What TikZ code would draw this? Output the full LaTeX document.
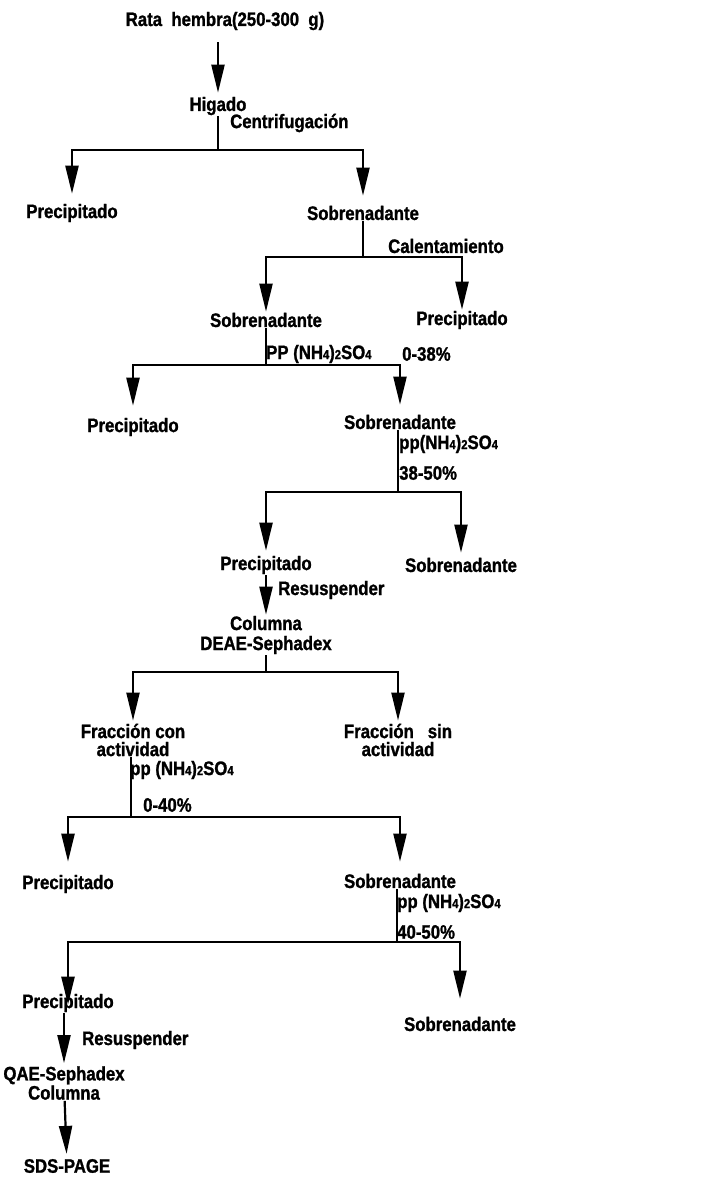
\documentclass[tikz,border=0pt]{standalone}
\usepackage{fontspec}
\setmainfont{Liberation Sans}[FakeStretch=0.86,BoldFeatures={FakeBold=1.2}]
\usetikzlibrary{arrows.meta}
\usetikzlibrary{positioning}
\newcommand{\dn}[1]{{\fontsize{13}{13}\selectfont #1}}

\begin{document}
\begin{tikzpicture}[x=1pt,y=-1pt]
\tikzset{txt/.style = {font=\bfseries\fontsize{19.5}{18}\selectfont,inner sep=1pt,align=center}}
\tikzset{lbl/.style = {txt,anchor=west}}
\tikzset{ln/.style = {line width=2.2pt}}
\tikzset{arr/.style = {ln,-{Triangle[length=28pt,width=13pt]},shorten >=3pt}}
\useasboundingbox (0,0) rectangle (705,1177);
% nodes
\node[txt] (rata) at (225,21) {Rata\ \ hembra(250-300\ \ g)};
\node[txt] (higado) at (218,106) {Higado};
\node[lbl] (centrif) at (229,123) {Centrifugación};
\node[txt] (prec1) at (72,213) {Precipitado};
\node[txt] (sobre1) at (363,213) {Sobrenadante};
\node[lbl] (calent) at (387,246) {Calentamiento};
\node[txt] (sobre2) at (266,320) {Sobrenadante};
\node[txt] (prec2) at (462,320) {Precipitado};
\node[lbl] (pp1) at (265,354) {PP (NH\dn{4})\dn{2}SO\dn{4}};
\node[lbl] (pct1) at (401,354) {0-38\%};
\node[txt] (prec3) at (133,427) {Precipitado};
\node[txt] (sobre3) at (400,422) {Sobrenadante};
\node[lbl] (pp2) at (398,444) {pp(NH\dn{4})\dn{2}SO\dn{4}};
\node[lbl] (pct2) at (398,473) {38-50\%};
\node[txt] (prec4) at (266,565) {Precipitado};
\node[txt] (sobre4) at (461,565) {Sobrenadante};
\node[lbl] (resus1) at (277,590) {Resuspender};
\node[txt] (col1) at (266,635) {Columna\\[2pt]DEAE-Sephadex};
\node[txt] (frac1) at (133,740) {Fracción con\\actividad};
\node[txt] (frac2) at (398,740) {Fracción\ \ \ sin\\actividad};
\node[lbl] (pp3) at (129,770) {pp (NH\dn{4})\dn{2}SO\dn{4}};
\node[lbl] (pct3) at (142,805) {0-40\%};
\node[txt] (prec6) at (68,884) {Precipitado};
\node[txt] (sobre6) at (400,881) {Sobrenadante};
\node[lbl] (pp4) at (396,903) {pp (NH\dn{4})\dn{2}SO\dn{4}};
\node[lbl] (pct4) at (396,932) {40-50\%};
\node[txt] (prec7) at (68,1003) {Precipitado};
\node[txt] (sobre7) at (460,1024) {Sobrenadante};
\node[lbl] (resus2) at (81,1040) {Resuspender};
\node[txt] (col2) at (64,1083) {QAE-Sephadex\\Columna};
\node[txt] (sds) at (67,1166) {SDS-PAGE};
% junctions
\coordinate (j1) at (218,150);
\coordinate (j2) at (363,257);
\coordinate (j3) at (266,365);
\coordinate (j4) at (398,492);
\coordinate (j5) at (266,672);
\coordinate (j6) at (131,817);
\coordinate (j7) at (397,942);
% edges
\draw[arr,shorten <=11pt] (rata.south -| higado.north) -- (higado.north);
\draw[ln] (higado) -- (j1);
\draw[arr,shorten >=9pt] (j1) -| (prec1);
\draw[arr,shorten >=9pt] (j1) -| (sobre1);
\draw[ln] (sobre1) -- (j2);
\draw[arr,shorten >=0pt] (j2) -| (sobre2);
\draw[arr,shorten >=0pt] (j2) -| (prec2);
\draw[ln] (sobre2) -- (j3);
\draw[arr,shorten >=11pt] (j3) -| (prec3);
\draw[arr,shorten >=9pt] (j3) -| (sobre3);
\draw[ln] (sobre3.south -| j4) -- (j4);
\draw[arr,shorten >=4pt] (j4) -| (prec4);
\draw[arr,shorten >=4pt] (j4) -| (sobre4);
\draw[arr,shorten >=0pt] (prec4) -- (col1);
\draw[ln] (col1) -- (j5);
\draw[arr,shorten >=2pt] (j5) -| (frac1);
\draw[arr,shorten >=2pt] (j5) -| (frac2);
\draw[ln] (frac1.south -| j6) -- (j6);
\draw[arr,shorten >=12pt] (j6) -| (prec6);
\draw[arr,shorten >=11pt] (j6) -| (sobre6);
\draw[ln] (sobre6.south -| j7) -- (j7);
\draw[arr,shorten >=-12pt] (j7) -| (prec7);
\draw[arr,shorten >=17pt] (j7) -| (sobre7);
\draw[arr,shorten >=2pt] (prec7.south -| col2.north) -- (col2.north);
\draw[arr,shorten >=4pt] (col2) -- (sds);
\end{tikzpicture}
\end{document}
